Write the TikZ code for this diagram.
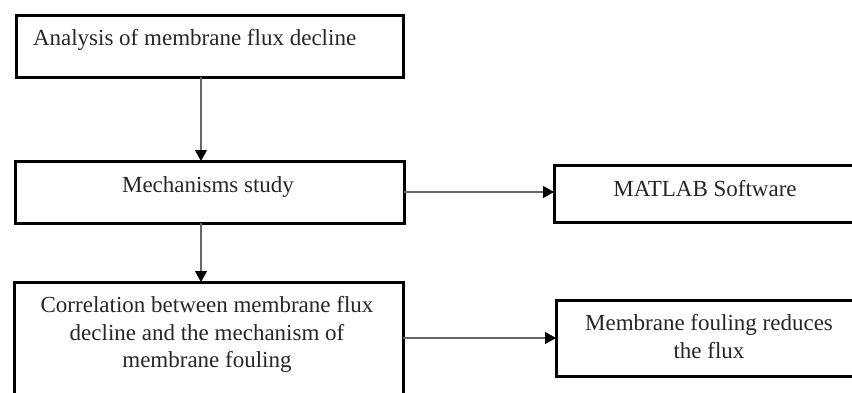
\documentclass[tikz,border=0pt]{standalone}
\usepackage{fontspec}
\setmainfont{Liberation Serif}
\usetikzlibrary{arrows.meta}
\tikzset{
  box/.style={draw=black, line width=3pt, inner sep=0pt, outer sep=0pt},
  arr/.style={draw=black!60, line width=1.3pt, -{Triangle[length=11pt,width=12pt,color=black,fill=black]}},
  txt/.style={inner sep=0pt, outer sep=0pt, font=\fontsize{23}{27.6}\selectfont, text=black!85}
}
\begin{document}
\begin{tikzpicture}[x=1pt,y=-1pt]
\useasboundingbox (0,0) rectangle (852,392);
\begin{scope}
\clip (0,0) rectangle (852,392);
% boxes
\node[box, minimum width=387pt, minimum height=62pt] (b1) at (209.5,46) {};
\node[box, minimum width=389pt, minimum height=62pt] (b2) at (209.5,192) {};
\node[box, minimum width=360pt, minimum height=57pt] (b3) at (734,193.5) {};
\node[box, minimum width=389pt, minimum height=140pt] (b4) at (208.5,352) {};
\node[box, minimum width=360pt, minimum height=76pt] (b5) at (736,338) {};
% texts
\node[txt, anchor=base west] (t1) at (33,45) {Analysis of membrane flux decline};
\node[txt, anchor=base] (t2) at (208,192) {Mechanisms study};
\node[txt, anchor=base] (t3) at (705,196) {MATLAB Software};
\node[txt, anchor=north, align=center] (t4) at (207,296.5) {Correlation between membrane flux\\decline and the mechanism of\\membrane fouling};
\node[txt, anchor=north, align=center] (t5) at (709,314.5) {Membrane fouling reduces\\the flux};
% connectors
\coordinate (ax) at (201,0);
\draw[arr] (b1.south -| ax) -- (b2.north -| ax);
\draw[arr] (b2.south -| ax) -- (b4.north -| ax);
\draw[arr] (b2.east) -- (b2.east -| b3.west);
\draw[arr] (b5.west -| b4.east) -- (b5.west);
\end{scope}
\end{tikzpicture}
\end{document}
